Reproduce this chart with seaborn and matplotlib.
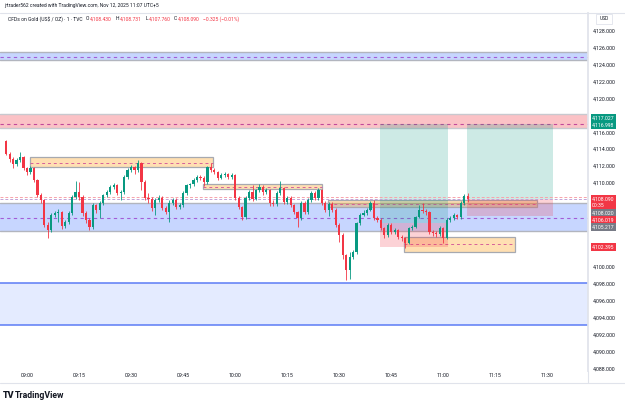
import seaborn as sns
import matplotlib.pyplot as plt
import matplotlib.transforms as mtransforms
from matplotlib.patches import Rectangle
from matplotlib.lines import Line2D
import numpy as np
import pandas as pd

# 1-minute candles, first one at 08:54 (minute -6 relative to 09:00)
start_minute = -6
first_open = 4114.95
closes = [4113.41, 4112.82, 4112.22, 4112.70, 4113.05, 4111.75, 4111.27, 4111.75, 4110.33, 4108.55,
          4107.95, 4104.99, 4104.39, 4106.17, 4106.41, 4106.53, 4104.87, 4105.34, 4106.41, 4108.31,
          4108.90, 4108.31, 4106.41, 4105.58, 4104.75, 4107.36, 4106.77, 4107.60, 4108.55, 4108.90,
          4109.50, 4109.73, 4108.78, 4108.90, 4110.68, 4111.51, 4111.87, 4111.51, 4112.34, 4110.09,
          4108.19, 4108.07, 4107.00, 4107.95, 4108.19, 4107.00, 4106.53, 4107.60, 4107.95, 4107.12,
          4107.36, 4108.78, 4109.73, 4109.85, 4110.33, 4110.68, 4110.56, 4110.09, 4111.87, 4111.51,
          4111.27, 4110.56, 4110.92, 4111.04, 4110.68, 4110.92, 4108.19, 4107.12, 4105.94, 4108.19,
          4108.90, 4108.07, 4109.14, 4109.50, 4108.90, 4109.14, 4107.60, 4107.50, 4108.78, 4109.38,
          4107.72, 4108.19, 4107.36, 4106.53, 4105.82, 4107.60, 4106.53, 4107.95, 4108.78, 4108.19,
          4109.14, 4107.60, 4106.77, 4107.48, 4106.77, 4104.99, 4103.80, 4101.43, 4099.65, 4101.19,
          4101.78, 4105.22, 4106.17, 4106.41, 4106.77, 4107.60, 4105.82, 4105.60, 4104.63, 4103.80,
          4104.99, 4104.16, 4104.39, 4103.56, 4103.45, 4102.85, 4104.63, 4104.75, 4105.94, 4106.77,
          4106.65, 4106.53, 4104.16, 4104.04, 4103.95, 4104.63, 4103.45, 4105.58, 4105.82, 4106.17,
          4105.94, 4107.60, 4108.43, 4108.09]
highs = [4115.10, 4113.60, 4113.00, 4112.90, 4113.60, 4113.20, 4111.90, 4112.00, 4111.90, 4110.50,
         4108.80, 4108.10, 4105.30, 4106.40, 4106.70, 4106.90, 4106.70, 4105.60, 4106.60, 4108.50,
         4110.20, 4110.10, 4108.50, 4106.60, 4105.80, 4107.60, 4107.50, 4107.80, 4108.70, 4109.10,
         4109.70, 4110.00, 4109.90, 4109.20, 4110.90, 4111.70, 4112.10, 4112.00, 4112.70, 4112.50,
         4110.30, 4108.80, 4108.30, 4108.20, 4108.50, 4108.40, 4107.20, 4107.90, 4108.20, 4108.20,
         4107.60, 4109.00, 4109.90, 4110.00, 4110.60, 4110.90, 4110.90, 4110.80, 4112.00, 4112.34,
         4111.70, 4111.40, 4111.10, 4111.30, 4111.20, 4111.10, 4111.00, 4108.40, 4107.30, 4108.40,
         4109.10, 4109.73, 4109.30, 4109.80, 4109.70, 4109.40, 4109.30, 4107.90, 4109.00, 4110.20,
         4109.50, 4108.40, 4108.40, 4107.50, 4106.70, 4107.80, 4107.80, 4108.20, 4109.00, 4109.00,
         4109.40, 4109.30, 4107.80, 4107.70, 4107.70, 4107.00, 4105.20, 4104.00, 4101.60, 4101.80,
         4102.00, 4105.40, 4106.40, 4106.80, 4107.00, 4107.80, 4107.95, 4106.00, 4105.80, 4104.80,
         4105.20, 4105.20, 4104.60, 4104.50, 4103.80, 4103.60, 4104.80, 4105.00, 4106.10, 4107.36,
         4107.60, 4106.90, 4106.70, 4104.40, 4104.30, 4104.90, 4104.80, 4105.80, 4106.10, 4106.40,
         4106.30, 4107.80, 4108.66, 4108.731]
lows = [4113.30, 4112.50, 4111.75, 4112.00, 4112.50, 4111.50, 4110.90, 4111.00, 4110.10, 4108.30,
        4107.60, 4104.70, 4103.45, 4104.20, 4105.90, 4105.30, 4104.50, 4104.60, 4105.10, 4106.20,
        4108.10, 4108.00, 4106.10, 4105.20, 4104.40, 4104.50, 4106.40, 4105.80, 4107.40, 4108.30,
        4108.70, 4109.30, 4108.50, 4107.90, 4108.70, 4110.50, 4111.30, 4111.00, 4111.30, 4109.10,
        4107.90, 4107.60, 4106.70, 4106.20, 4107.70, 4106.80, 4106.30, 4105.30, 4107.40, 4106.90,
        4106.90, 4107.10, 4108.50, 4109.40, 4109.60, 4110.10, 4110.30, 4109.60, 4109.90, 4111.30,
        4111.00, 4110.30, 4110.40, 4110.70, 4110.50, 4110.50, 4108.00, 4106.90, 4105.60, 4105.70,
        4108.00, 4107.80, 4107.90, 4108.90, 4108.60, 4108.70, 4107.30, 4107.20, 4107.30, 4108.60,
        4107.50, 4107.50, 4107.10, 4106.30, 4104.75, 4105.60, 4106.30, 4106.30, 4107.70, 4107.90,
        4108.00, 4107.40, 4106.50, 4106.10, 4106.50, 4104.70, 4103.00, 4101.00, 4098.46, 4098.60,
        4100.90, 4101.60, 4105.00, 4106.00, 4106.20, 4106.60, 4105.60, 4105.30, 4104.40, 4103.50,
        4103.60, 4103.90, 4103.90, 4103.30, 4103.10, 4102.26, 4102.70, 4104.40, 4104.60, 4105.80,
        4106.40, 4106.20, 4103.90, 4103.70, 4103.60, 4103.70, 4102.85, 4103.30, 4105.40, 4105.60,
        4105.70, 4105.70, 4107.40, 4107.76]

time_ticks = [0, 15, 30, 45, 60, 75, 90, 105, 120, 135, 150]
time_labels = ['09:00', '09:15', '09:30', '09:45', '10:00', '10:15', '10:30', '10:45', '11:00', '11:15', '11:30']
price_ticks = [4128, 4126, 4124, 4122, 4120, 4116, 4114, 4112, 4110, 4100, 4098, 4096, 4094, 4092, 4090, 4088]

# full-width horizontal zones: (low, high, mid line)
blue_zones = [(4124.56, 4125.50, 4124.90), (4104.28, 4107.63, 4105.85)]
red_zone = (4116.45, 4118.10, 4117.00)
pale_zone = (4093.12, 4098.07)
# orange boxes: (start min, end min, low, high, mid)
orange_boxes = [(0.9, 53.6, 4111.90, 4113.00, 4112.40),
                (50.7, 85.0, 4109.22, 4109.85, 4109.50),
                (86.7, 147.0, 4107.12, 4107.95, 4107.50),
                (108.6, 140.6, 4101.78, 4103.56, 4102.70)]
# long position tools
pos_start = [101.7, 126.8]
pos_end = [121.3, 151.6]
pos_entry = [4105.217, 4108.020]
pos_target = [4117.027, 4116.998]
pos_stop = [4102.395, 4106.019]

UP, DOWN = '#089981', '#f23645'
TXT = '#131722'

sns.set_theme(style='white')
plt.rcParams['font.family'] = ['Roboto', 'DejaVu Sans']

W, H = 625, 409
fig = plt.figure(figsize=(6.25, 4.09), dpi=100)
ax = fig.add_axes([0, 1 - 371 / H, 588 / W, (371 - 13) / H])
ax.set_xlim(-7.78, 161.7)
ax.set_ylim(4087.67, 4130.14)

# zones
for lo, hi, mid in blue_zones:
    ax.axhspan(lo, hi, facecolor='#2962ff', alpha=0.26, lw=0, zorder=1)
    ax.axhline(lo, color='#b2b5be', lw=1, zorder=1)
    ax.axhline(hi, color='#b2b5be', lw=1, zorder=1)
    ax.axhline(mid, color='#a25cd6', lw=0.8, ls=(0, (3, 3)), zorder=2)
lo, hi, mid = red_zone
ax.axhspan(lo, hi, facecolor='#f23645', alpha=0.3, lw=0, zorder=1)
ax.axhline(lo, color='#c8c9cf', lw=1, zorder=1)
ax.axhline(hi, color='#c8c9cf', lw=1, zorder=1)
ax.axhline(mid, color='#c2489a', lw=0.8, ls=(0, (3, 3)), zorder=2)
ax.axhspan(pale_zone[0], pale_zone[1], facecolor='#2962ff', alpha=0.12, lw=0, zorder=1)
for p in pale_zone:
    ax.axhline(p, color='#5b7cf5', lw=1.1, zorder=2)

for x0, x1, lo, hi, mid in orange_boxes:
    ax.add_patch(Rectangle((x0, lo), x1 - x0, hi - lo, facecolor='#ff9800', alpha=0.3, lw=0, zorder=2))
    ax.add_patch(Rectangle((x0, lo), x1 - x0, hi - lo, fill=False, edgecolor='#a7a9b0', lw=0.9, zorder=2))
    ax.plot([x0, x1], [mid, mid], color='#d6609a', lw=0.7, ls=(0, (3, 3)), zorder=2)

for x0, x1, e, t, s in zip(pos_start, pos_end, pos_entry, pos_target, pos_stop):
    ax.add_patch(Rectangle((x0, e), x1 - x0, t - e, facecolor=UP, alpha=0.2, lw=0, zorder=2))
    ax.add_patch(Rectangle((x0, s), x1 - x0, e - s, facecolor=DOWN, alpha=0.22, lw=0, zorder=2))

# last price lines
ax.axhline(4108.35, color='#f7a3ab', lw=0.7, ls=(0, (3, 2)), zorder=2)
ax.axhline(4108.02, color='#c2a3d8', lw=0.7, ls=(0, (3, 2)), zorder=2)

# candles
opens = [first_open] + closes[:-1]
df = pd.DataFrame({'minute': np.arange(len(closes)) + start_minute,
                   'open': opens, 'close': closes, 'high': highs, 'low': lows})
colors = np.where(df['close'] >= df['open'], UP, DOWN)
ax.vlines(df['minute'], df['low'], df['high'], colors=colors, lw=0.6, zorder=3)
body = (df['close'] - df['open']).abs().clip(lower=0.08)
ax.bar(df['minute'], body, bottom=df[['open', 'close']].min(axis=1), width=0.64,
       color=colors, lw=0, zorder=4)

# axes styling
for s in ax.spines.values():
    s.set_visible(False)
ax.spines['right'].set_visible(True)
ax.spines['right'].set_color('#e0e3eb')
ax.yaxis.tick_right()
ax.set_yticks(price_ticks)
ax.set_yticklabels([f'{v:,.3f}' for v in price_ticks])
ax.set_xticks(time_ticks)
ax.set_xticklabels(time_labels)
ax.tick_params(axis='y', length=0, pad=3.6, labelsize=3.8, colors=TXT)
ax.tick_params(axis='x', length=0, pad=1.5, labelsize=3.8, colors=TXT)
ax.grid(False)

# price axis labels
trans = mtransforms.blended_transform_factory(ax.transAxes, ax.transData)
axis_labels = [('4,117.027', 4117.027, 4.2, UP), ('4,116.998', 4116.998, -0.7, UP),
               ('4,108.090\n00:35', 4108.09, -2.6, DOWN), ('4,108.020', 4108.02, -9.7, '#787b86'),
               ('4,106.019', 4106.019, -2.7, DOWN), ('4,105.217', 4105.217, -2.8, '#787b86'),
               ('4,102.395', 4102.395, 0, DOWN)]
for txt, price, dy, col in axis_labels:
    ax.annotate(txt, xy=(1.0, price), xycoords=trans, xytext=(3, dy), textcoords='offset points',
                ha='left', va='center', fontsize=3.7, color='white', linespacing=1.3,
                bbox=dict(boxstyle='square,pad=0.3', fc=col, ec='none'),
                annotation_clip=False, zorder=10)

# frame lines
fig.add_artist(Line2D([0, 1], [1 - 13 / H, 1 - 13 / H], color='#e0e3eb', lw=0.8))
fig.add_artist(Line2D([0, 1], [1 - 383 / H, 1 - 383 / H], color='#e0e3eb', lw=0.8))
fig.add_artist(Line2D([588 / W, 588 / W], [1 - 383 / H, 1 - 371 / H], color='#e0e3eb', lw=0.8))
fig.text(604 / W, 1 - 19 / H, 'USD', fontsize=3.5, color=TXT, ha='center', va='center',
         bbox=dict(boxstyle='square,pad=0.6', fc='white', ec='#e0e3eb', lw=0.6))

# header
fig.text(4 / W, 1 - 6 / H, 'jrtrader562 created with TradingView.com, Nov 12, 2025 11:07 UTC+5',
         fontsize=3.6, color=TXT, va='center')
# legend line: parts placed one after another, (text, colour, gap in px before it)
header_parts = [('CFDs on Gold (US$ / OZ) · 1 · TVC', TXT, 0), ('O', TXT, 3.5), ('4,108.430', DOWN, 0.8),
                ('H', TXT, 3.5), ('4,108.731', DOWN, 0.8), ('L', TXT, 3.5), ('4,107.760', DOWN, 0.8),
                ('C', TXT, 3.5), ('4,108.090', DOWN, 0.8), ('\u22120.325 (\u22120.01%)', DOWN, 3.5)]
renderer = fig.canvas.get_renderer()
x_px = 8
for txt, col, gap in header_parts:
    x_px += gap
    t = fig.text(x_px / W, 1 - 19 / H, txt, fontsize=3.6, color=col, va='center')
    x_px += t.get_window_extent(renderer).width

fig.text(3 / W, 1 - 396 / H, 'TV', fontsize=6.5, fontweight='heavy', color=TXT, va='center')
fig.text(15 / W, 1 - 396 / H, 'TradingView', fontsize=6.3, fontweight='bold', color=TXT, va='center')

fig.savefig('out.png', dpi=100)
